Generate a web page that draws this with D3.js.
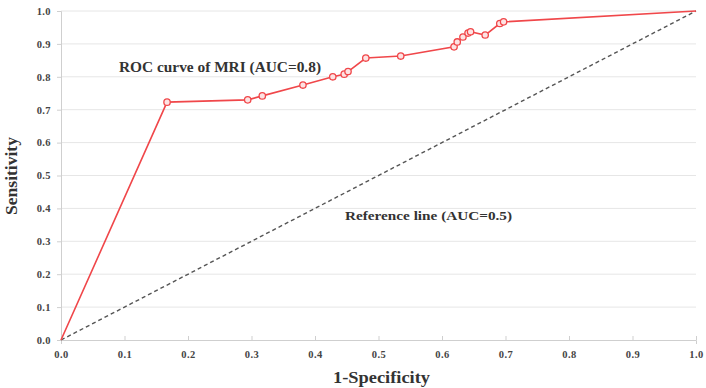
<!DOCTYPE html>
<html>
<head>
<meta charset="utf-8">
<script src="https://cdn.jsdelivr.net/npm/d3@7"></script>
<style>
  body { margin: 0; background: #fff; }
  text { font-family: "Liberation Serif", "Times New Roman", serif; font-weight: bold; fill: #333; }
</style>
</head>
<body>
<div id="chartContainer"></div>
<script>
// ROC points (1-Specificity, Sensitivity)
var fpr = [0, 0.167, 0.294, 0.317, 0.381, 0.428, 0.446, 0.452, 0.480, 0.535, 0.619, 0.624, 0.633, 0.641, 0.645, 0.668, 0.691, 0.697, 1.0]
var tpr = [0, 0.723, 0.730, 0.742, 0.775, 0.800, 0.808, 0.816, 0.857, 0.863, 0.891, 0.906, 0.921, 0.933, 0.937, 0.927, 0.962, 0.967, 1.0]
var refLine = [[0, 0], [1, 1]]
var ticks = [0, 0.1, 0.2, 0.3, 0.4, 0.5, 0.6, 0.7, 0.8, 0.9, 1.0]

var W = 706, H = 388,
    margins = {left: 61, right: 10, top: 11, bottom: 48}

var svg = d3.select("#chartContainer").append("svg")
    .attr("width", W)
    .attr("height", H)

var x = d3.scaleLinear().domain([0, 1]).range([margins.left, W - margins.right])
var y = d3.scaleLinear().domain([0, 1]).range([H - margins.bottom, margins.top])

// gridlines
svg.append("g")
  .selectAll("line")
  .data(ticks.slice(1))
  .enter().append("line")
    .attr("x1", x(0))
    .attr("x2", x(1))
    .attr("y1", function(d){ return y(d) })
    .attr("y2", function(d){ return y(d) })
    .style("stroke", "#e6e6e6")
    .style("stroke-width", 1)

var xAxis = svg.append("g")
    .attr("transform", "translate(0," + y(0) + ")")
    .call(d3.axisBottom(x).tickValues(ticks).tickFormat(d3.format(".1f")).tickSize(4).tickPadding(7))
var yAxis = svg.append("g")
    .attr("transform", "translate(" + x(0) + ",0)")
    .call(d3.axisLeft(y).tickValues(ticks).tickFormat(d3.format(".1f")).tickSize(4).tickPadding(6))

xAxis.select(".domain").style("stroke", "#cfcfcf")
yAxis.select(".domain").style("stroke", "#cfcfcf")
svg.selectAll(".tick line").style("stroke", "#cfcfcf")
xAxis.selectAll(".tick line").attr("y1", -4).attr("y2", 0)
svg.selectAll(".tick text")
  .style("font-family", "Liberation Serif, serif")
  .style("font-weight", "bold")
  .style("font-size", "10.5px")
  .style("letter-spacing", "0.4px")
  .style("fill", "#444")

// reference line
svg.append("line")
  .attr("x1", x(refLine[0][0]))
  .attr("y1", y(refLine[0][1]))
  .attr("x2", x(refLine[1][0]))
  .attr("y2", y(refLine[1][1]))
  .style("stroke", "#555")
  .style("stroke-width", 1.4)
  .style("stroke-dasharray", "4,3")

var pts = fpr.map(function(d, i){ return {x: d, y: tpr[i]} })

svg.append("path")
  .datum(pts)
  .attr("d", d3.line().x(function(d){ return x(d.x) }).y(function(d){ return y(d.y) }))
  .style("fill", "none")
  .style("stroke", "#f0474a")
  .style("stroke-width", 1.6)

svg.selectAll(".dot")
  .data(pts.slice(1, pts.length - 1))
  .enter().append("circle")
    .attr("class", "dot")
    .attr("cx", function(d){ return x(d.x) })
    .attr("cy", function(d){ return y(d.y) })
    .attr("r", 3.2)
    .style("fill", "#fde3e3")
    .style("stroke", "#f0474a")
    .style("stroke-width", 1.3)

// labels
svg.append("text")
  .attr("x", 119)
  .attr("y", 72)
  .attr("textLength", 202)
  .attr("lengthAdjust", "spacingAndGlyphs")
  .style("font-size", "14px")
  .text("ROC curve of MRI (AUC=0.8)")

svg.append("text")
  .attr("x", 345)
  .attr("y", 220)
  .attr("textLength", 167)
  .attr("lengthAdjust", "spacingAndGlyphs")
  .style("font-size", "13px")
  .text("Reference line (AUC=0.5)")

svg.append("text")
  .attr("x", 333)
  .attr("y", 383)
  .attr("textLength", 97)
  .attr("lengthAdjust", "spacingAndGlyphs")
  .style("font-size", "16px")
  .text("1-Specificity")

svg.append("text")
  .attr("transform", "translate(17,215) rotate(-90)")
  .attr("textLength", 78)
  .attr("lengthAdjust", "spacingAndGlyphs")
  .style("font-size", "16px")
  .text("Sensitivity")
</script>
</body>
</html>
